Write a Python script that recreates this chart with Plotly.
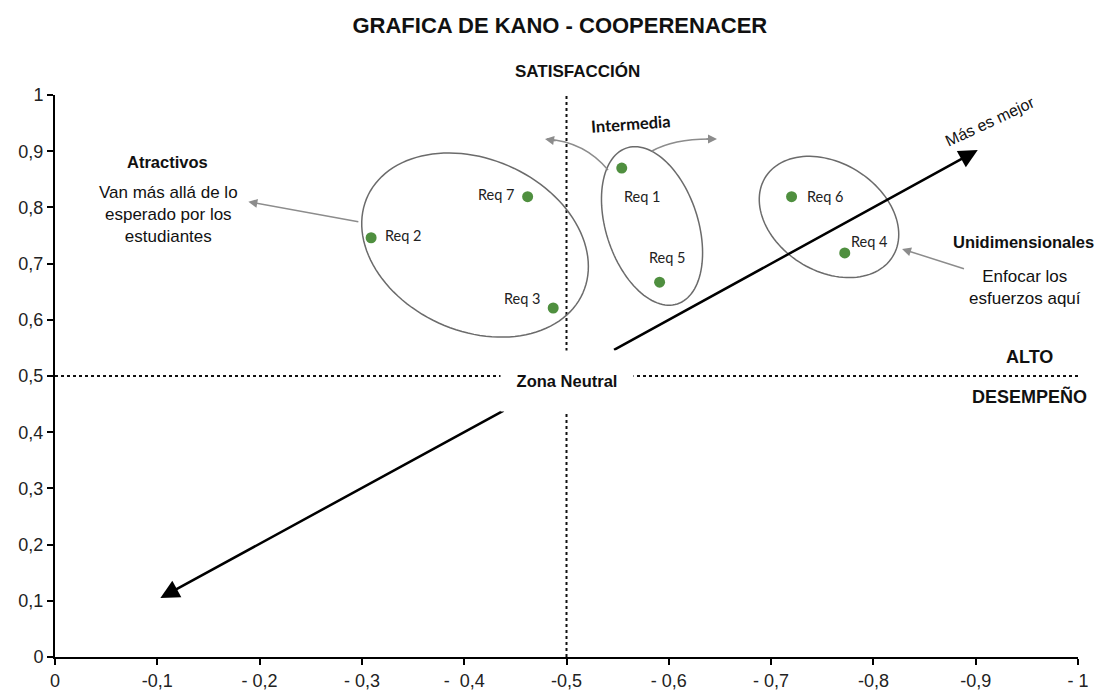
import numpy as np
import plotly.graph_objects as go

# ---------------- data ----------------
req_names = ["Req 1", "Req 2", "Req 3", "Req 4", "Req 5", "Req 6", "Req 7"]
desempeno = [-0.554, -0.309, -0.487, -0.772, -0.591, -0.720, -0.462]   # x (performance)
satisfaccion = [0.870, 0.746, 0.621, 0.719, 0.667, 0.819, 0.819]      # y (satisfaction)

x_tick_vals = [0, -0.1, -0.2, -0.3, -0.4, -0.5, -0.6, -0.7, -0.8, -0.9, -1]
x_tick_text = ["0", "-0,1", "- 0,2", "- 0,3", "-  0,4", "-0,5", "- 0,6", "- 0,7", "-0,8", "-0,9", "- 1"]
y_tick_vals = [0, 0.1, 0.2, 0.3, 0.4, 0.5, 0.6, 0.7, 0.8, 0.9, 1]
y_tick_text = ["0", "0,1", "0,2", "0,3", "0,4", "0,5", "0,6", "0,7", "0,8", "0,9", "1"]

# ---------------- layout constants ----------------
# page body has an 8px margin: figure is sized so the plot area lands where the reference has it
W, H = 1095, 690
ML, MR, MT, MB = 47, 25, 87, 41
PW, PH = W - ML - MR, H - MT - MB

NARROW = "Liberation Sans, Arial, sans-serif"
LABEL_FONT = "Lato, Carlito, Calibri, Open Sans, sans-serif"
GREEN = "#4f8f3f"
GRAY = "#8c8c8c"
ELL = "#6b6b6b"

fig = go.Figure()

# label offsets (pixels) for each requirement label
label_off = {
    "Req 1": (21, 28), "Req 2": (32, -2), "Req 3": (-31, -10), "Req 4": (25, -11),
    "Req 5": (8, -25), "Req 6": (34, 0), "Req 7": (-31, -2),
}

fig.add_trace(go.Scatter(
    x=desempeno, y=satisfaccion, mode="markers",
    marker=dict(size=11, color=GREEN),
    hoverinfo="text", text=req_names, showlegend=False, cliponaxis=False,
))

annotations = []
for n, x, y in zip(req_names, desempeno, satisfaccion):
    dx, dy = label_off[n]
    annotations.append(dict(x=x, y=y, xref="x", yref="y", text=n, showarrow=False,
                            xshift=dx, yshift=-dy,
                            font=dict(family=LABEL_FONT, size=14.5, color="#222")))


def ellipse_path(cx, cy, a, b, theta_deg, n=120):
    th = np.radians(theta_deg)
    t = np.linspace(0, 2 * np.pi, n)
    dx = a * np.cos(t) * np.cos(th) - b * np.sin(t) * np.sin(th)
    dy = a * np.cos(t) * np.sin(th) + b * np.sin(t) * np.cos(th)
    xs = cx - dx / PW
    ys = cy - dy / PH
    p = "M" + " L".join(f"{x:.5f},{y:.5f}" for x, y in zip(xs, ys)) + " Z"
    return p


shapes = []
# dotted reference lines
shapes.append(dict(type="line", xref="x", yref="y", x0=-0.5, x1=-0.5, y0=0, y1=1.006,
                   line=dict(color="#111", width=2, dash="dot")))
shapes.append(dict(type="line", xref="x", yref="y", x0=0, x1=-1.005, y0=0.5, y1=0.5,
                   line=dict(color="#111", width=2, dash="dot")))
# ellipses
for cx, cy, a, b, th in [(-0.4106, 0.733, 118, 86, 24),
                         (-0.5836, 0.767, 82, 46, 72),
                         (-0.7566, 0.783, 75, 54, 32)]:
    shapes.append(dict(type="path", xref="x", yref="y", path=ellipse_path(cx, cy, a, b, th),
                       line=dict(color=ELL, width=1.5)))
# curved gray arrows (Intermedia)
shapes.append(dict(type="path", xref="x", yref="y",
                   path="M-0.5406,0.8665 Q-0.518,0.9164 -0.481,0.9217",
                   line=dict(color=GRAY, width=1.5)))
shapes.append(dict(type="path", xref="x", yref="y",
                   path="M-0.5836,0.9004 Q-0.6061,0.9235 -0.645,0.9217",
                   line=dict(color=GRAY, width=1.5)))

# arrowheads for curved arrows
annotations.append(dict(x=-0.479, y=0.9217, xref="x", yref="y", ax=12, ay=2, text="",
                        showarrow=True, arrowhead=2, arrowsize=1.2, arrowwidth=1.5, arrowcolor=GRAY))
annotations.append(dict(x=-0.6471, y=0.9217, xref="x", yref="y", ax=-12, ay=0, text="",
                        showarrow=True, arrowhead=2, arrowsize=1.2, arrowwidth=1.5, arrowcolor=GRAY))
# straight gray arrows
annotations.append(dict(x=-0.189, y=0.810, ax=-0.298, ay=0.774, xref="x", yref="y",
                        axref="x", ayref="y", text="", showarrow=True, arrowhead=2,
                        arrowsize=1.2, arrowwidth=1.5, arrowcolor=GRAY))
annotations.append(dict(x=-0.828, y=0.726, ax=-0.890, ay=0.690, xref="x", yref="y",
                        axref="x", ayref="y", text="", showarrow=True, arrowhead=2,
                        arrowsize=1.2, arrowwidth=1.5, arrowcolor=GRAY))
# main black diagonal arrow (two halves)
annotations.append(dict(x=-0.902, y=0.902, ax=-0.545, ay=0.545, xref="x", yref="y",
                        axref="x", ayref="y", text="", showarrow=True, arrowhead=2,
                        arrowsize=1.5, arrowwidth=2.5, arrowcolor="#000"))
annotations.append(dict(x=-0.103, y=0.105, ax=-0.44, ay=0.44, xref="x", yref="y",
                        axref="x", ayref="y", text="", showarrow=True, arrowhead=2,
                        arrowsize=1.5, arrowwidth=2.5, arrowcolor="#000"))


# texts (positions given in plot-area paper fractions: x = -data_x, y = data_y)
def txt(x, y, s, size=15, bold=False, family=NARROW, angle=0, color="#111", **kw):
    if bold:
        s = f"<b>{s}</b>"
    d = dict(x=x, y=y, xref="paper", yref="paper", text=s, showarrow=False, textangle=angle,
             xanchor="center", yanchor="middle",
             font=dict(family=family, size=size, color=color))
    d.update(kw)
    annotations.append(d)


txt(0.511, 1.041, "SATISFACCIÓN", size=17, bold=True)
txt(0.563, 0.948, "Intermedia", size=16.5, bold=True, family=LABEL_FONT, angle=-4)
txt(0.1095, 0.881, "Atractivos", size=16.5, bold=True)
txt(0.1105, 0.788, "Van más allá de lo<br>esperado por los<br>estudiantes", size=17)
txt(0.947, 0.738, "Unidimensionales", size=16.5, bold=True)
txt(0.948, 0.658, "Enfocar los<br>esfuerzos aquí", size=17)
txt(0.953, 0.534, "ALTO", size=18, bold=True)
txt(0.953, 0.464, "DESEMPEÑO", size=18, bold=True)
txt(0.914, 0.952, "Más es mejor", size=16, angle=-25)
txt(0.5, 0.491, "Zona Neutral", size=16.5, bold=True, bgcolor="white",
    width=128, height=56, borderpad=2)

fig.update_layout(
    width=W, height=H,
    margin=dict(l=ML, r=MR, t=MT, b=MB, autoexpand=False),
    paper_bgcolor="white", plot_bgcolor="white",
    title=dict(text="<b>GRAFICA DE KANO - COOPERENACER</b>", x=0.504, xanchor="center",
               y=0.975, yanchor="middle",
               font=dict(family=NARROW, size=22, color="#111")),
    shapes=shapes, annotations=annotations,
    xaxis=dict(range=[0, -1], tickvals=x_tick_vals, ticktext=x_tick_text, automargin=False,
               showgrid=False, zeroline=False, showline=True, linecolor="#000", linewidth=2,
               ticks="outside", ticklen=6, tickwidth=1.5, tickcolor="#000",
               tickfont=dict(family=NARROW, size=18, color="#222"), fixedrange=True),
    yaxis=dict(range=[0, 1], tickvals=y_tick_vals, ticktext=y_tick_text, automargin=False,
               showgrid=False, zeroline=False, showline=True, linecolor="#000", linewidth=2,
               ticks="outside", ticklen=6, tickwidth=1.5, tickcolor="#000",
               tickfont=dict(family=NARROW, size=18, color="#222"), fixedrange=True),
)

fig.write_html("out.html")
